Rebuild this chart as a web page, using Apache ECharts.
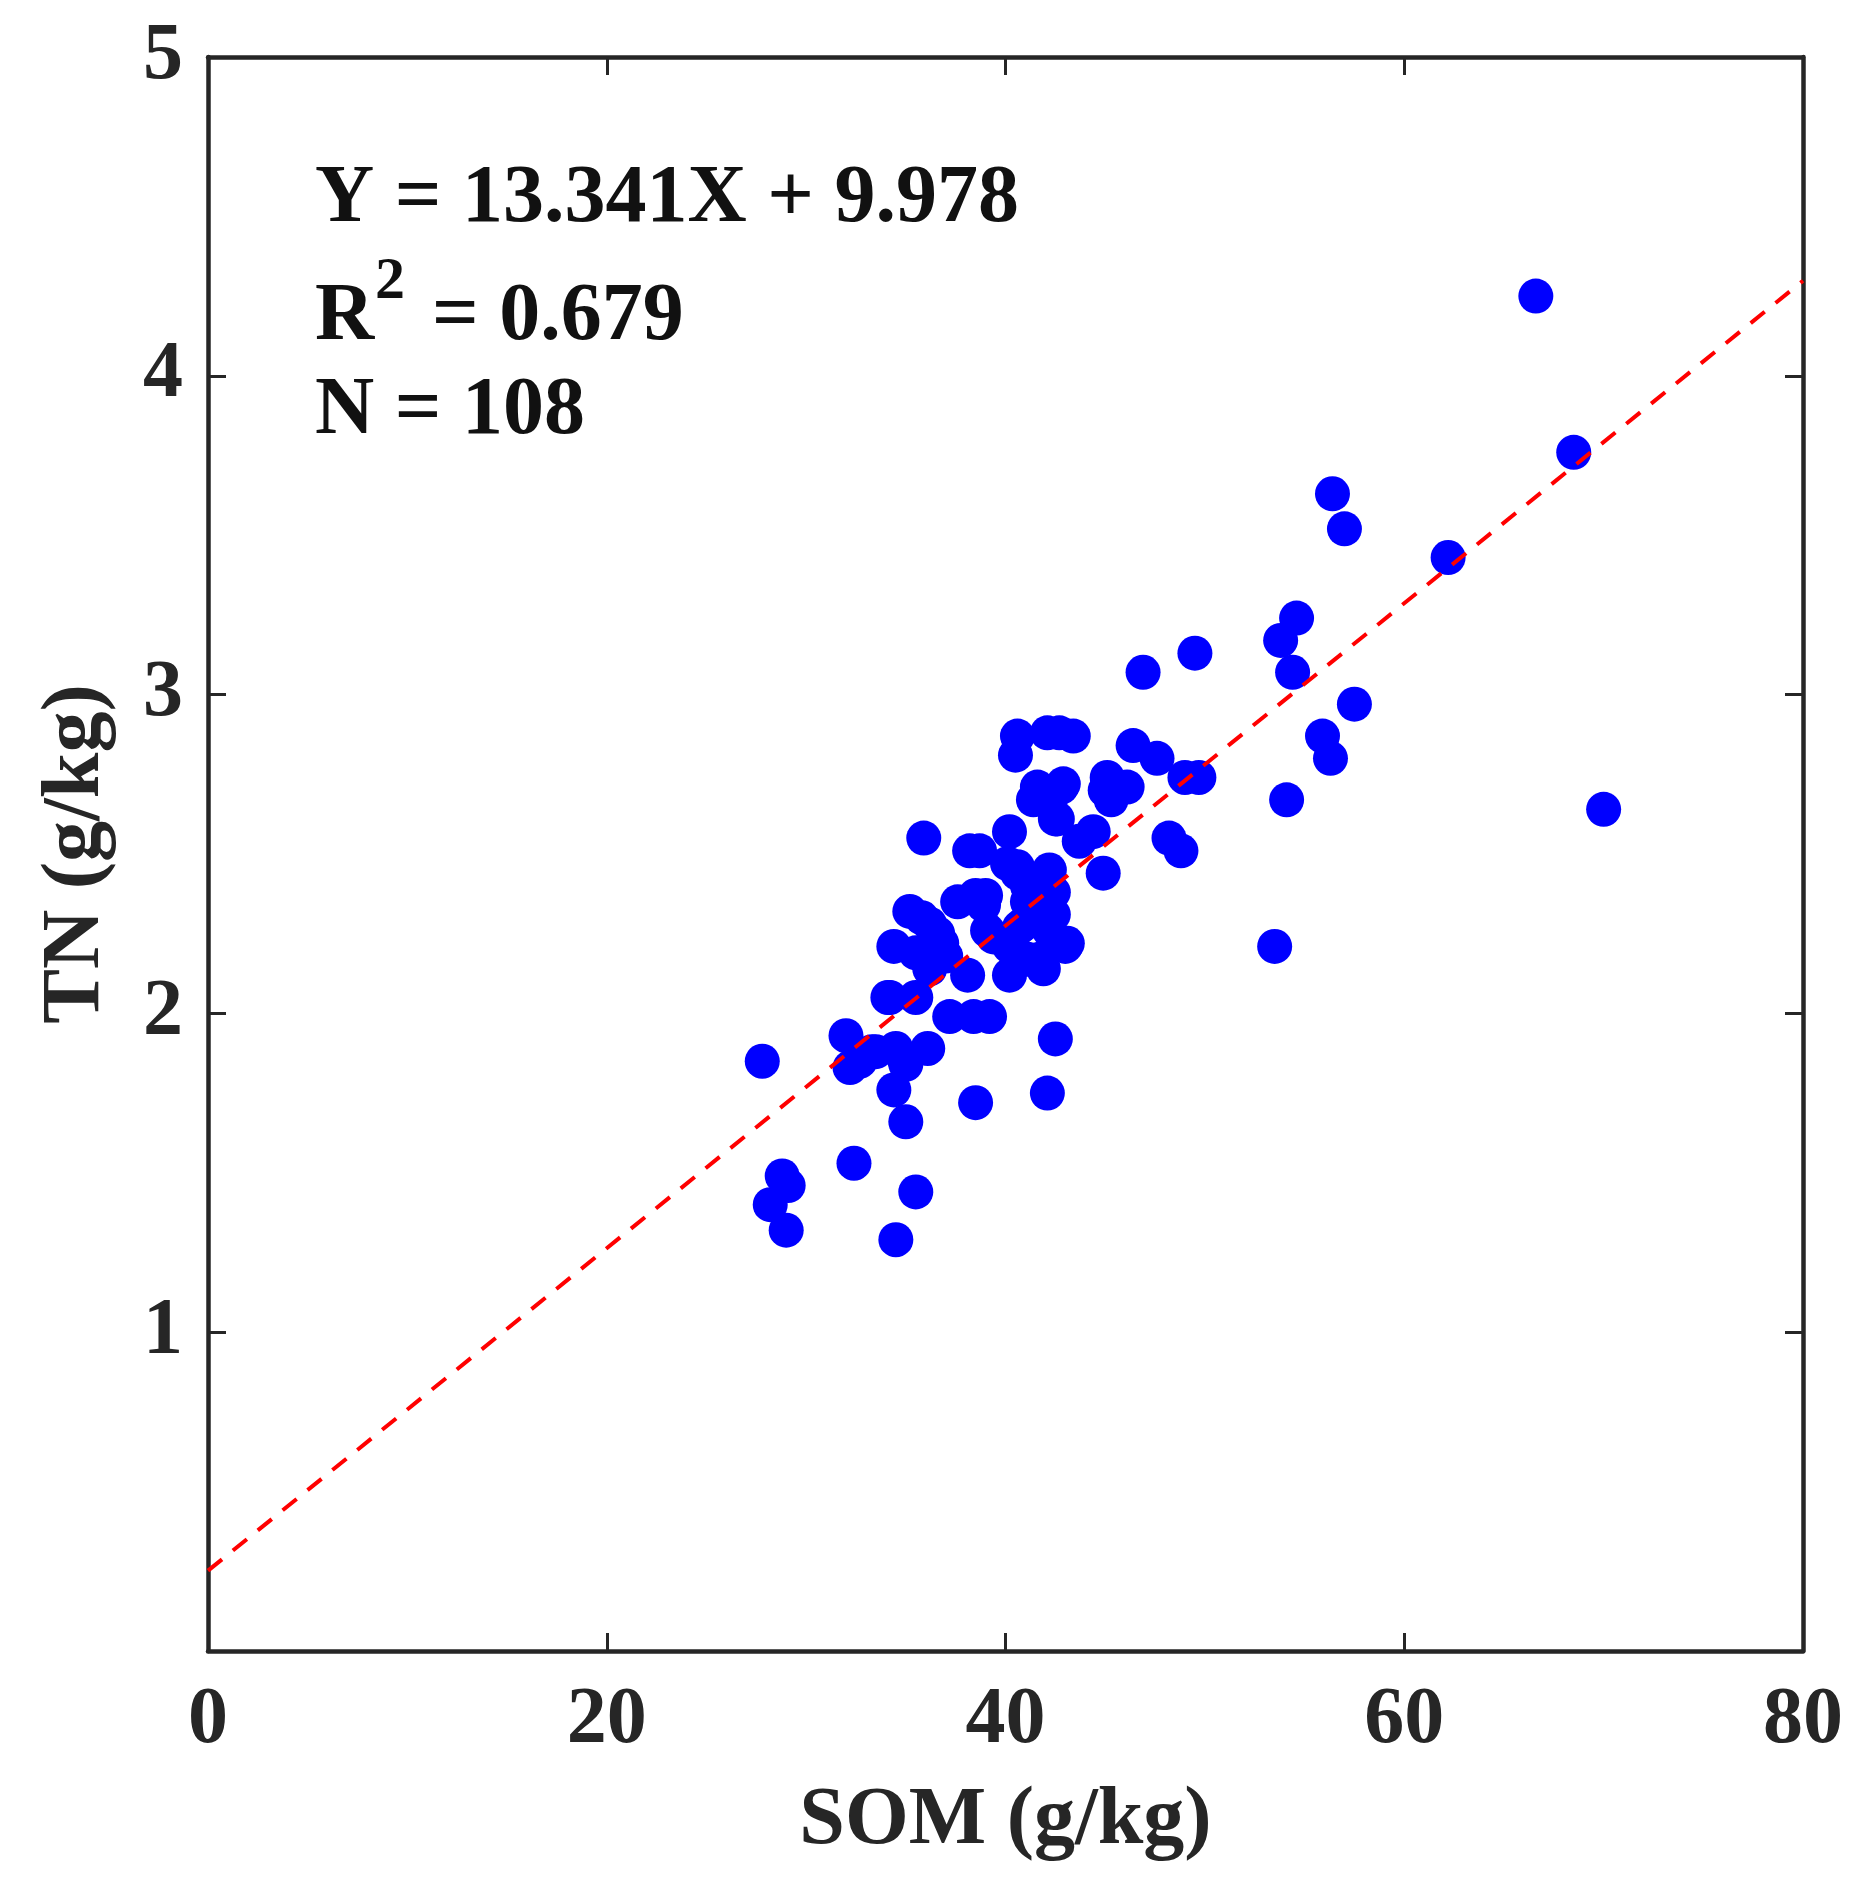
<!DOCTYPE html>
<html>
<head>
<meta charset="utf-8">
<script src="https://cdn.jsdelivr.net/npm/echarts@6/dist/echarts.min.js"></script>
<style>
  html, body { margin: 0; padding: 0; background: #fff; }
  #chart { width: 1864px; height: 1903px; }
</style>
</head>
<body>
<div id="chart"></div>
<script>
// SOM (g/kg) on x, TN (g/kg) on y
var somValues = [
  66.6, 68.5, 56.4, 57.0, 62.2, 54.6, 53.8, 49.5, 46.9, 54.4,
  57.5, 55.9, 56.3, 70.0, 54.1, 53.5, 49.7, 49.0, 48.2, 48.8,
  40.6, 40.5, 42.1, 42.7, 43.4, 46.4, 47.6, 41.6, 42.8, 41.4,
  45.1, 46.1, 45.3, 42.6, 44.4, 43.7, 35.9, 40.2, 38.2, 38.7,
  40.1, 40.6, 42.2, 44.9, 35.2, 35.8, 37.6, 38.5, 34.4, 36.6,
  39.1, 41.1, 42.4, 42.4, 40.7, 43.1, 41.7, 40.2, 38.1, 35.5,
  36.2, 34.2, 35.5, 37.2, 38.4, 39.2, 42.5, 32.0, 32.2, 33.5,
  34.5, 35.0, 36.1, 34.4, 35.0, 38.5, 42.1, 32.4, 35.5, 34.5,
  27.8, 28.8, 29.1, 28.2, 29.0, 41.1, 40.6, 36.8, 36.4, 40.9,
  39.4, 38.9, 42.2, 41.1, 40.2, 41.9, 43.0, 42.3, 42.5, 33.3,
  34.9, 32.7, 42.9, 36.2, 34.1, 39.0, 45.0, 37.0
];
var tnValues = [
  4.25, 3.76, 3.63, 3.52, 3.43, 3.24, 3.17, 3.13, 3.07, 3.07,
  2.97, 2.87, 2.80, 2.64, 2.67, 2.21, 2.74, 2.74, 2.55, 2.51,
  2.87, 2.81, 2.88, 2.88, 2.87, 2.84, 2.80, 2.71, 2.71, 2.67,
  2.74, 2.71, 2.67, 2.61, 2.57, 2.54, 2.55, 2.57, 2.51, 2.51,
  2.47, 2.44, 2.45, 2.44, 2.32, 2.30, 2.35, 2.37, 2.21, 2.25,
  2.26, 2.35, 2.38, 2.31, 2.27, 2.22, 2.17, 2.12, 2.12, 2.19,
  2.14, 2.05, 2.05, 1.99, 1.99, 1.99, 1.92, 1.93, 1.83, 1.88,
  1.89, 1.84, 1.89, 1.76, 1.66, 1.72, 1.75, 1.53, 1.44, 1.29,
  1.85, 1.49, 1.46, 1.40, 1.32, 2.40, 2.46, 2.22, 2.17, 2.28,
  2.24, 2.34, 2.26, 2.17, 2.21, 2.14, 2.21, 2.68, 2.61, 1.88,
  1.86, 1.85, 2.72, 2.28, 2.05, 2.37, 2.70, 2.18
];

// fitted line end points
var fitX = [0, 80];
var fitY = [0.252, 4.298];

var xTicks = [0, 20, 40, 60, 80];
var yTicks = [0, 1, 2, 3, 4, 5];

var fontFamily = "'Liberation Serif', 'Times New Roman', serif";
var ink = '#262626';

var points = [];
for (var i = 0; i < somValues.length; i++) {
    points.push([somValues[i], tnValues[i]]);
}
var fitLine = [];
for (var i = 0; i < fitX.length; i++) {
    fitLine.push([fitX[i], fitY[i]]);
}

function axisCommon(extra) {
    var a = {
        type: 'value',
        axisLine: { show: true, onZero: false, lineStyle: { color: ink, width: 4.5 } },
        axisTick: { show: true, inside: true, length: 18, lineStyle: { color: ink, width: 3 } },
        splitLine: { show: false },
        axisLabel: { show: false }
    };
    for (var k in extra) a[k] = extra[k];
    return a;
}

var labelStyle = {
    show: true,
    color: ink,
    fontFamily: fontFamily,
    fontWeight: 'bold',
    fontSize: 80
};

var chart = echarts.init(document.getElementById('chart'));

var option = {
    backgroundColor: '#ffffff',
    animation: false,
    grid: { left: 208, top: 57, right: 61, bottom: 252, containLabel: false },
    xAxis: [
        axisCommon({
            position: 'bottom', min: xTicks[0], max: xTicks[xTicks.length - 1], interval: 20,
            name: 'SOM (g/kg)', nameLocation: 'middle', nameGap: 130,
            nameTextStyle: { color: ink, fontFamily: fontFamily, fontWeight: 'bold', fontSize: 82 },
            axisLabel: Object.assign({}, labelStyle, { margin: 30 })
        }),
        axisCommon({ position: 'top', min: xTicks[0], max: xTicks[xTicks.length - 1], interval: 20 })
    ],
    yAxis: [
        axisCommon({
            position: 'left', min: yTicks[0], max: yTicks[yTicks.length - 1], interval: 1,
            name: 'TN (g/kg)', nameLocation: 'middle', nameGap: 90,
            nameTextStyle: { color: ink, fontFamily: fontFamily, fontWeight: 'bold', fontSize: 82 },
            axisLabel: Object.assign({}, labelStyle, { margin: 25, showMinLabel: false,
                formatter: function (v) { return v === 0 ? '' : String(v); } })
        }),
        axisCommon({ position: 'right', min: yTicks[0], max: yTicks[yTicks.length - 1], interval: 1 })
    ],
    series: [
        {
            type: 'scatter',
            data: points,
            symbol: 'circle',
            symbolSize: 35,
            itemStyle: { color: '#0000ff', opacity: 1 },
            z: 2
        },
        {
            type: 'line',
            data: fitLine,
            symbol: 'none',
            lineStyle: { color: '#ff0000', width: 4, type: [18, 14] },
            z: 3
        }
    ],
    graphic: [
        { type: 'text', left: 315, top: 159, style: { text: 'Y = 13.341X + 9.978', fill: '#111', font: 'bold 82px ' + fontFamily } },
        { type: 'text', left: 315, top: 277, style: { text: 'R', fill: '#111', font: 'bold 82px ' + fontFamily } },
        { type: 'text', left: 375, top: 252, style: { text: '2', fill: '#111', font: 'bold 60px ' + fontFamily } },
        { type: 'text', left: 432, top: 277, style: { text: '= 0.679', fill: '#111', font: 'bold 82px ' + fontFamily } },
        { type: 'text', left: 315, top: 371, style: { text: 'N = 108', fill: '#111', font: 'bold 82px ' + fontFamily } }
    ]
};

chart.setOption(option);
</script>
</body>
</html>
